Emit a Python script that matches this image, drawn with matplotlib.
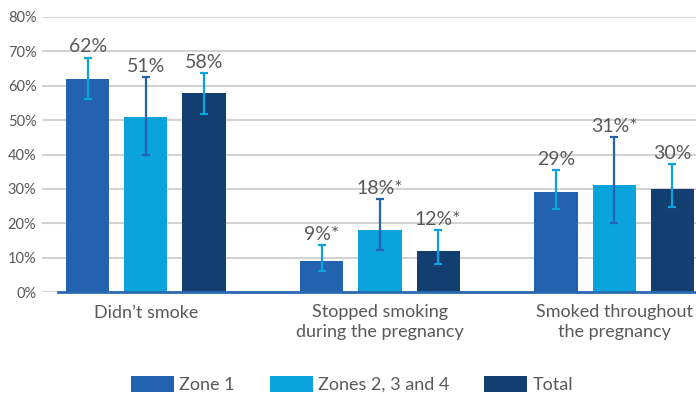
import matplotlib
matplotlib.use("Agg")
import matplotlib.pyplot as plt
from matplotlib.patches import Patch
import numpy as np

plt.rcParams['font.family'] = ['Lato', 'DejaVu Sans']

categories = ["Didn\u2019t smoke", "Stopped smoking\nduring the pregnancy", "Smoked throughout\nthe pregnancy"]
series_names = ["Zone 1", "Zones 2, 3 and 4", "Total"]
values = {
    "Zone 1": [62, 9, 29],
    "Zones 2, 3 and 4": [51, 18, 31],
    "Total": [58, 12, 30],
}
ci_low = {
    "Zone 1": [56.2, 6.2, 24.1],
    "Zones 2, 3 and 4": [39.9, 12.3, 20.1],
    "Total": [51.8, 8.1, 24.8],
}
ci_high = {
    "Zone 1": [68.2, 13.7, 35.6],
    "Zones 2, 3 and 4": [62.6, 27.1, 45.2],
    "Total": [63.8, 18.1, 37.3],
}
value_labels = {
    "Zone 1": ["62%", "9%*", "29%"],
    "Zones 2, 3 and 4": ["51%", "18%*", "31%*"],
    "Total": ["58%", "12%*", "30%"],
}
yticks = [0, 10, 20, 30, 40, 50, 60, 70, 80]
ytick_labels = ["0%", "10%", "20%", "30%", "40%", "50%", "60%", "70%", "80%"]

bar_colors = {"Zone 1": "#2262ae", "Zones 2, 3 and 4": "#0aa3dc", "Total": "#123e72"}
err_colors = {"Zone 1": "#0aa3dc", "Zones 2, 3 and 4": "#2262ae", "Total": "#0aa3dc"}
text_color = "#595959"

fig = plt.figure(figsize=(6.96, 3.94), dpi=100)
ax = fig.add_axes([42 / 696, 1 - 292 / 394, 654 / 696, 275 / 394])

x = np.arange(len(categories))
width = 0.184
step = 0.248
for k, name in enumerate(series_names):
    xs = x + (k - 1) * step
    vals = np.array(values[name], dtype=float)
    lo = vals - np.array(ci_low[name])
    hi = np.array(ci_high[name]) - vals
    ax.bar(xs, vals, width=width, color=bar_colors[name], zorder=3, label=name)
    ax.errorbar(xs, vals, yerr=[lo, hi], fmt="none", ecolor=err_colors[name],
                elinewidth=1.6, capsize=3.2, capthick=1.6, zorder=4)
    for xi, top, lab in zip(xs, ci_high[name], value_labels[name]):
        ax.annotate(lab, (xi, top), xytext=(0, 1.5), textcoords="offset points",
                    ha="center", va="bottom", fontsize=14, color=text_color)

ax.set_xlim(-0.444, 2.350)
ax.set_ylim(0, 80)
ax.set_yticks(yticks)
ax.set_yticklabels(ytick_labels, fontsize=10.5, color=text_color)
ax.set_xticks(x)
ax.set_xticklabels(categories, fontsize=13, color=text_color, linespacing=1.25)
ax.tick_params(axis="x", length=0, pad=9)
ax.tick_params(axis="y", length=0, pad=4)
for s in ax.spines.values():
    s.set_visible(False)
ax.yaxis.grid(True, color="#d3d3d3", linewidth=1.5, zorder=0)
ax.set_axisbelow(True)
ax.axhline(0, xmin=(-0.376 + 0.444) / (2.350 + 0.444), xmax=1, color="#2a6ab5",
           linewidth=2, zorder=5, clip_on=False)

handles = [Patch(facecolor=bar_colors[n], edgecolor="none") for n in series_names]
leg = fig.legend(handles, series_names, loc="center", bbox_to_anchor=(0.506, 0.025),
                 ncol=3, frameon=False, fontsize=13, handlelength=2.38, handleheight=1.0,
                 handletextpad=0.28, columnspacing=1.94, borderpad=0, borderaxespad=0)
for t in leg.get_texts():
    t.set_color(text_color)

fig.savefig("out.png", dpi=100)
